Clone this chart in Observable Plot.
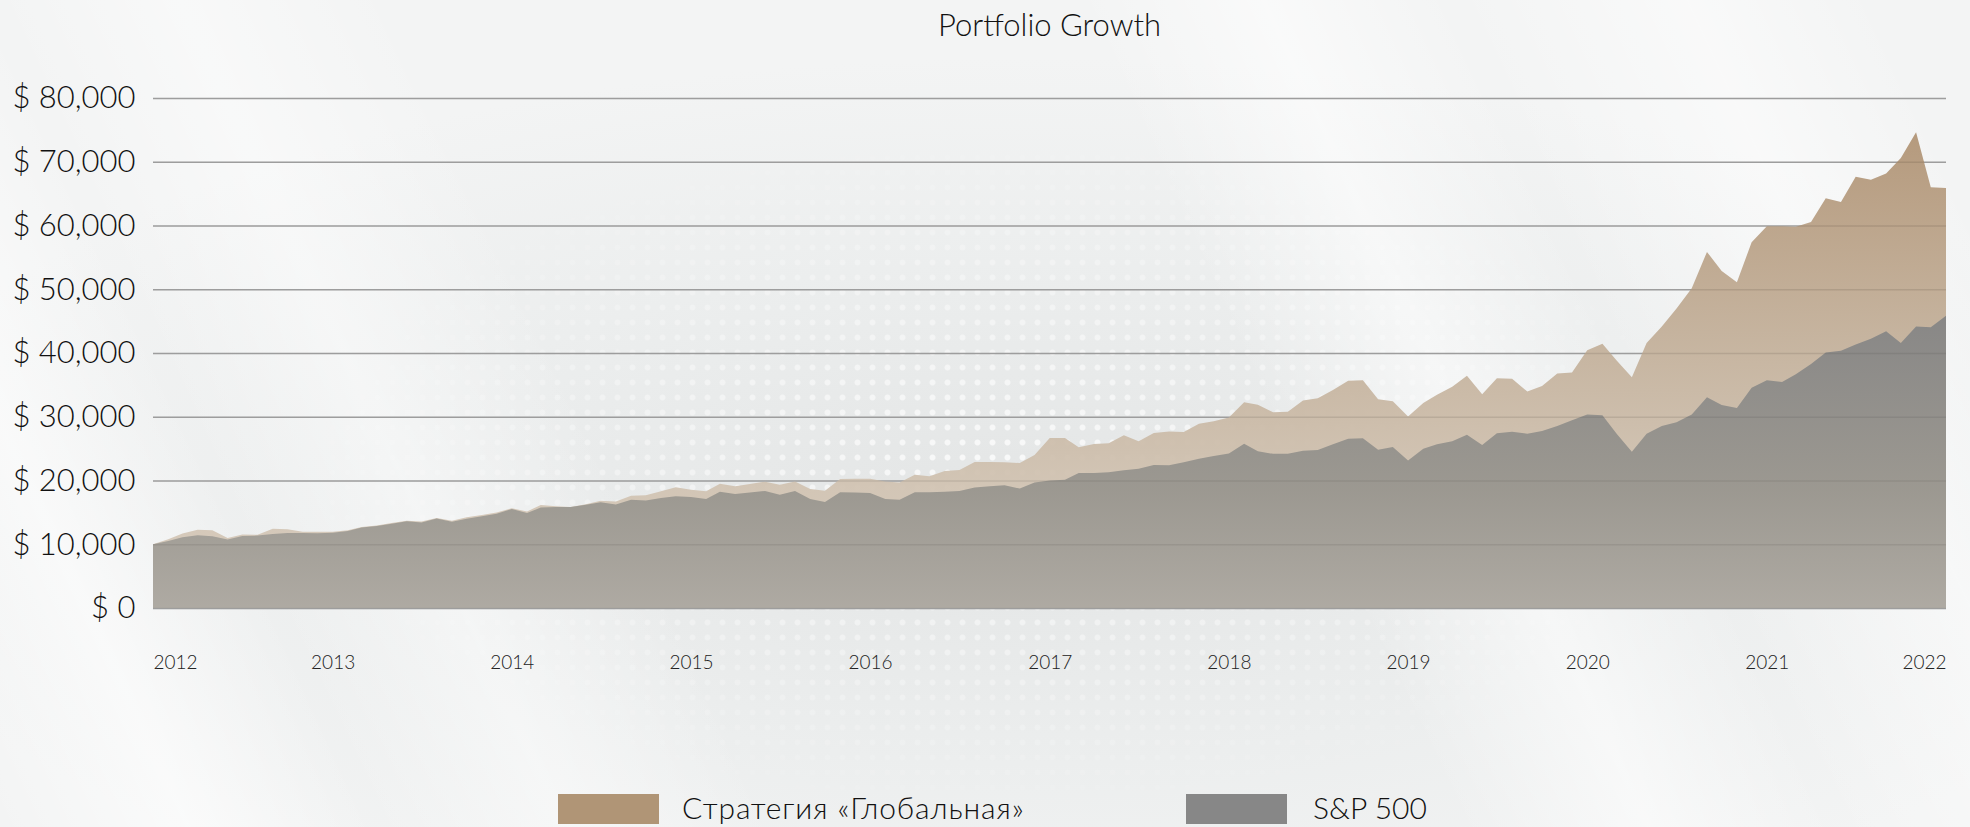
<!DOCTYPE html>
<html>
<head>
<meta charset="utf-8">
<script src="https://cdn.jsdelivr.net/npm/d3@7"></script>
<script src="https://cdn.jsdelivr.net/npm/@observablehq/plot@0.6"></script>
<style>
  html, body { margin: 0; padding: 0; }
  body { width: 1970px; height: 827px; overflow: hidden; font-family: Lato, "Open Sans", sans-serif; }
  #wrap {
    position: relative; width: 1970px; height: 827px; overflow: hidden;
    background:
      linear-gradient(65deg, rgba(255,255,255,0) 0%, rgba(255,255,255,0.6) 8%, rgba(255,255,255,0) 16%,
        rgba(255,255,255,0.45) 24%, rgba(255,255,255,0) 33%, rgba(255,255,255,0) 62%,
        rgba(255,255,255,0.55) 70%, rgba(255,255,255,0) 78%, rgba(255,255,255,0.5) 88%, rgba(255,255,255,0) 96%),
      radial-gradient(ellipse 60% 55% at 52% 62%, #e3e5e5 0%, #eceeee 55%, #f3f4f4 100%);
  }
  #dots {
    position: absolute; left: 250px; top: 120px; width: 1500px; height: 707px;
    background-image: radial-gradient(circle, rgba(255,255,255,0.85) 0, rgba(255,255,255,0.85) 2.5px, rgba(255,255,255,0) 3.5px);
    background-size: 15px 15px;
    -webkit-mask-image: radial-gradient(ellipse 50% 50% at 50% 50%, rgba(0,0,0,0.9) 0%, rgba(0,0,0,0) 100%);
    mask-image: radial-gradient(ellipse 50% 50% at 50% 50%, rgba(0,0,0,0.9) 0%, rgba(0,0,0,0) 100%);
  }
  #title {
    position: absolute; left: 153px; width: 1793px; top: 4px; text-align: center;
    font-size: 31px; font-weight: 300; color: #111; line-height: 40px;
  }
  #chart { position: absolute; left: 0; top: 0; }
  #chart svg text { font-weight: 300; }
  .lg-sw { position: absolute; top: 794px; width: 101px; height: 30px; }
  .lg-tx { position: absolute; top: 789px; font-size: 30px; font-weight: 300; color: #111; line-height: 36px; white-space: nowrap; }
</style>
</head>
<body>
<div id="wrap">
  <div id="dots"></div>
  <div id="title"></div>
  <div id="chart"></div>
  <div id="legend"></div>
</div>
<script>
// ---------- data ----------
const titleText = "Portfolio Growth";
const seriesNames = ["Стратегия «Глобальная»", "S&P 500"];
const seriesColors = ["#b09576", "#878787"];
const years = [2012, 2013, 2014, 2015, 2016, 2017, 2018, 2019, 2020, 2021, 2022];
const yTicks = [0, 10000, 20000, 30000, 40000, 50000, 60000, 70000, 80000];

// monthly points, Jan 2012 (start, $10,000) through Jan 2022
const months = d3.utcMonth.range(new Date(Date.UTC(2012, 0, 1)), new Date(Date.UTC(2022, 1, 1)));

const sp500 = [
  10000,
  10500, 11100, 11400, 11250, 10750, 11290, 11360, 11600, 11750, 11760, 11720, 11820,
  12080, 12620, 12850, 13230, 13600, 13430, 14050, 13520, 14000, 14380, 14800, 15520,
  14900, 15750, 15840, 15840, 16200, 16580, 16250, 16990, 16850, 17260, 17520, 17420,
  17090, 18240, 17880, 18120, 18350, 17780, 18350, 17100, 16630, 18140, 18100, 18050,
  17100, 16990, 18140, 18150, 18250, 18350, 18920, 19080, 19240, 18740, 19700, 20000,
  20130, 21180, 21180, 21300, 21590, 21850, 22420, 22390, 22870, 23420, 23860, 24250,
  25770, 24570, 24180, 24180, 24650, 24800, 25700, 26530, 26610, 24830, 25250, 23150,
  25000, 25700, 26140, 27170, 25580, 27400, 27630, 27340, 27760, 28550, 29450, 30340,
  30220, 27340, 24520, 27340, 28550, 29150, 30340, 33050, 31850, 31370, 34540, 35740,
  35450, 36650, 38270, 40070, 40370, 41340, 42230, 43430, 41570, 44150, 44030, 45830
];

const strategy = [
  10000,
  10800, 11700, 12270, 12180, 11000, 11520, 11500, 12440, 12360, 11980, 11950, 11960,
  12180, 12700, 12950, 13320, 13700, 13580, 14120, 13700, 14220, 14580, 15000, 15640,
  15150, 16150, 15950, 15860, 16260, 16820, 16700, 17600, 17700, 18300, 18930, 18540,
  18300, 19500, 19080, 19450, 19810, 19340, 19860, 18670, 18400, 20230, 20260, 20260,
  19860, 19700, 20900, 20650, 21490, 21650, 22900, 22900, 22850, 22740, 24000, 26660,
  26660, 25200, 25720, 25830, 27080, 26140, 27450, 27680, 27620, 28910, 29300, 29900,
  32280, 31890, 30700, 30780, 32560, 32900, 34180, 35660, 35740, 32760, 32420, 30050,
  32150, 33460, 34700, 36450, 33540, 36030, 35950, 33950, 34840, 36770, 36940, 40420,
  41440, 38810, 36180, 41570, 44150, 46970, 50150, 55860, 52860, 51080, 57380, 59900,
  59900, 59810, 60540, 64260, 63670, 67650, 67160, 68150, 70570, 74630, 65990, 65900
];

// ---------- build ----------
const data = months.map((d, i) => ({date: d, sp: sp500[i], st: strategy[i]}));
const yearDates = years.map(y => new Date(Date.UTC(y, 0, 1)));
const fmtY = d => "$ " + d3.format(",")(d);

document.getElementById("title").textContent = titleText;

const axisCommon = {tickSize: 0, tickPadding: 47, fontSize: 19, fill: "#222", tickFormat: d3.utcFormat("%Y"), anchor: "bottom"};

const chart = Plot.plot({
  width: 1970,
  height: 700,
  marginLeft: 153,
  marginRight: 24,
  marginTop: 98,
  marginBottom: 92,
  style: {background: "transparent", fontFamily: "Lato, 'Open Sans', sans-serif", overflow: "visible"},
  x: {type: "utc", domain: [months[0], months[months.length - 1]]},
  y: {domain: [0, 80000]},
  marks: [
    Plot.gridY(yTicks, {stroke: "#a9a9a9", strokeOpacity: 1, strokeWidth: 1.5}),
    Plot.areaY(data, {x: "date", y: "st", fill: "url(#gradTan)", fillOpacity: 0.93, curve: "linear"}),
    Plot.areaY(data, {x: "date", y: "sp", fill: "url(#gradGray)", fillOpacity: 0.95, curve: "linear"}),
    Plot.gridY(yTicks, {stroke: "#000", strokeOpacity: 0.07, strokeWidth: 1.5}),
    Plot.axisY(yTicks, {tickSize: 0, tickPadding: 18, fontSize: 31, fill: "#111", tickFormat: fmtY, anchor: "left"}),
    Plot.axisX(yearDates.slice(0, 1), {...axisCommon, textAnchor: "start"}),
    Plot.axisX(yearDates.slice(1, -1), {...axisCommon}),
    Plot.axisX(yearDates.slice(-1), {...axisCommon, textAnchor: "end"})
  ]
});

chart.insertAdjacentHTML("afterbegin", `
<defs>
  <linearGradient id="gradTan" x1="0" y1="0" x2="0" y2="1">
    <stop offset="0" stop-color="#b09374"/>
    <stop offset="0.45" stop-color="#c3b09a"/>
    <stop offset="0.75" stop-color="#d1c3b2"/>
    <stop offset="1" stop-color="#d6cabb"/>
  </linearGradient>
  <linearGradient id="gradGray" x1="0" y1="0" x2="0" y2="1">
    <stop offset="0" stop-color="#858585"/>
    <stop offset="0.6" stop-color="#99968f"/>
    <stop offset="1" stop-color="#aca8a1"/>
  </linearGradient>
</defs>`);

document.getElementById("chart").appendChild(chart);

// legend
const legend = document.getElementById("legend");
const lgPos = [{sw: 558, tx: 682, ls: "0.9px"}, {sw: 1186, tx: 1313, ls: "0px"}];
seriesNames.forEach((name, i) => {
  const sw = document.createElement("div");
  sw.className = "lg-sw";
  sw.style.left = lgPos[i].sw + "px";
  sw.style.background = seriesColors[i];
  legend.appendChild(sw);
  const tx = document.createElement("div");
  tx.className = "lg-tx";
  tx.style.left = lgPos[i].tx + "px";
  tx.style.letterSpacing = lgPos[i].ls;
  tx.textContent = name;
  legend.appendChild(tx);
});
</script>
</body>
</html>
